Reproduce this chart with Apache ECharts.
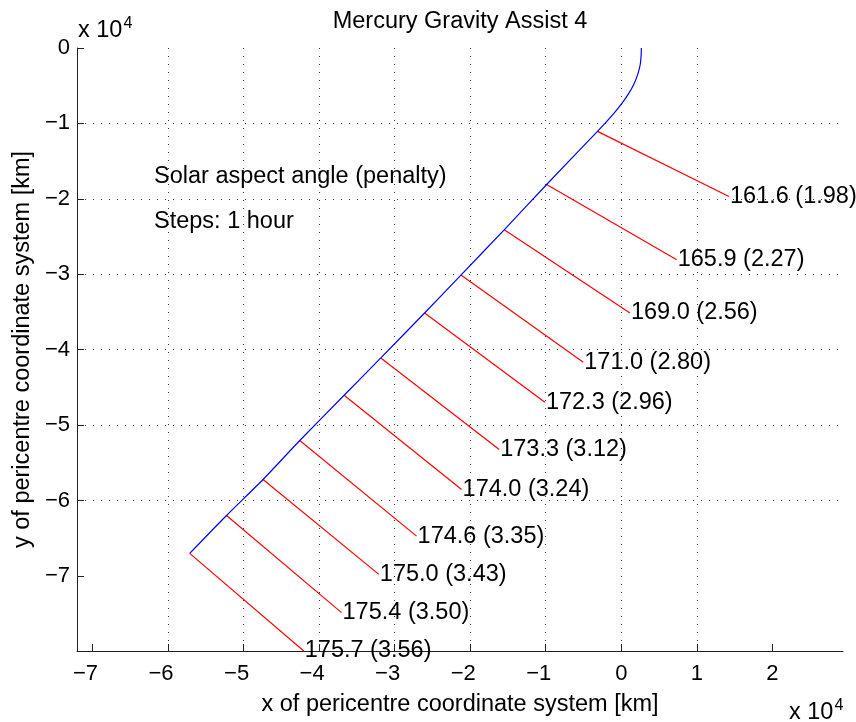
<!DOCTYPE html>
<html><head><meta charset="utf-8">
<script src="https://cdn.jsdelivr.net/npm/echarts@6/dist/echarts.min.js"></script>
<style>html,body{margin:0;padding:0;background:#fff}#c{width:856px;height:722px}</style>
</head><body><div id="c"></div>
<script>
// tick values (km)
const xTicks = [-70000,-60000,-50000,-40000,-30000,-20000,-10000,0,10000,20000];
const yTicks = [-70000,-60000,-50000,-40000,-30000,-20000,-10000,0];
// trajectory (km)
const trajX = [2650,2640,2520,2200,1680,950,30,-1030,-2230,-3150,-9880,-15500,-21230,-26040,-31830,-36690,-42560,-47420,-52260,-57130];
const trajY = [0,-790,-2120,-3440,-4770,-6090,-7420,-8740,-10070,-11060,-18100,-24110,-30110,-35140,-41100,-46050,-52050,-57220,-61990,-67020];
// hourly step points and sun-direction line ends (km)
const startX = [-3150,-9880,-15500,-21230,-26040,-31830,-36690,-42560,-47420,-52260,-57130];
const startY = [-11060,-18100,-24110,-30110,-35140,-41100,-46050,-52050,-57220,-61990,-67020];
const endX = [14260,7340,1150,-5030,-10110,-16160,-21140,-27100,-32090,-37030,-42030];
const endY = [-19700,-28080,-35140,-41680,-46980,-53250,-58540,-64730,-69800,-74870,-79960];
const angles = [161.6,165.9,169.0,171.0,172.3,173.3,174.0,174.6,175.0,175.4,175.7];
const penalties = [1.98,2.27,2.56,2.80,2.96,3.12,3.24,3.35,3.43,3.50,3.56];

const FF = 'Liberation Sans, Arial, Helvetica, sans-serif';
const FS = 23.5;
const minus = v => String(v).replace('-', '\u2212');
const chart = echarts.init(document.getElementById('c'), null, {renderer: 'canvas'});
const axisCommon = {
  type: 'value',
  axisLine: {show: true, onZero: false, lineStyle: {color: '#222', width: 1}},
  axisTick: {show: true, inside: true, length: 7, lineStyle: {color: '#222'}},
  axisLabel: {color: '#000', fontFamily: FF, fontSize: 22},
  splitLine: {show: true, showMinLine: false, showMaxLine: false, lineStyle: {type: [1, 7], color: '#333', width: 1}},
  nameTextStyle: {color: '#000', fontFamily: FF, fontSize: FS},
  nameLocation: 'middle'
};
const sup = {a: {fontSize: FS, fontFamily: FF, fill: '#000'}, b: {fontSize: 16, fontFamily: FF, fill: '#000', padding: [0, 0, 15, 1]}};
chart.setOption({
  animation: false,
  backgroundColor: '#fff',
  grid: {left: 77, right: 13, top: 48, bottom: 70, containLabel: false},
  xAxis: Object.assign({}, axisCommon, {
    min: -72050, max: 29350, splitNumber: 10,
    axisTick: Object.assign({}, axisCommon.axisTick, {customValues: xTicks}),
    axisLabel: Object.assign({}, axisCommon.axisLabel, {customValues: xTicks, margin: 12,
      formatter: v => { const t = Math.round(v / 1e4); return t < 0 ? '{n|' + minus(t) + '}' : String(t); },
      rich: {n: {fontSize: 22, fontFamily: FF, color: '#000', padding: [0, 14, 0, 0]}}}),
    name: 'x of pericentre coordinate system [km]', nameGap: 42
  }),
  yAxis: Object.assign({}, axisCommon, {
    min: -79960, max: 0, splitNumber: 8,
    axisTick: Object.assign({}, axisCommon.axisTick, {customValues: yTicks}),
    axisLabel: Object.assign({}, axisCommon.axisLabel, {customValues: yTicks, margin: 7,
      formatter: v => minus(Math.round(v / 1e4))}),
    name: 'y of pericentre coordinate system [km]', nameGap: 41, nameRotate: 90
  }),
  graphic: [
    {type: 'text', x: 460, y: 22, style: {text: 'Mercury Gravity Assist 4', fill: '#000', font: FS + 'px ' + FF, align: 'center', verticalAlign: 'middle'}},
    {type: 'text', x: 154, y: 177, style: {text: 'Solar aspect angle (penalty)', fill: '#000', font: FS + 'px ' + FF, align: 'left', verticalAlign: 'middle'}},
    {type: 'text', x: 154, y: 222, style: {text: 'Steps: 1 hour', fill: '#000', font: FS + 'px ' + FF, align: 'left', verticalAlign: 'middle'}},
    {type: 'text', x: 78, y: 31, style: {text: '{a|x 10}{b|4}', fill: '#000', align: 'left', verticalAlign: 'middle', rich: sup}},
    {type: 'text', x: 789, y: 713, style: {text: '{a|x 10}{b|4}', fill: '#000', align: 'left', verticalAlign: 'middle', rich: sup}}
  ],
  series: [
    {type: 'line', data: trajX.map((x, i) => [x, trajY[i]]), showSymbol: false, smooth: 0.2,
     lineStyle: {color: '#0000ff', width: 1.2}, z: 3},
    {type: 'lines', coordinateSystem: 'cartesian2d',
     data: startX.map((x, i) => ({coords: [[x, startY[i]], [endX[i], endY[i]]]})),
     lineStyle: {color: '#ff0000', width: 1.2, opacity: 1}, z: 2},
    {type: 'scatter', data: endX.map((x, i) => [x, endY[i]]), symbolSize: 0,
     itemStyle: {opacity: 1},
     label: {show: true, position: 'right', distance: 1, color: '#000', opacity: 1, fontFamily: FF, fontSize: FS,
       formatter: p => angles[p.dataIndex].toFixed(1) + ' (' + penalties[p.dataIndex].toFixed(2) + ')'}, z: 4}
  ]
});
</script></body></html>
